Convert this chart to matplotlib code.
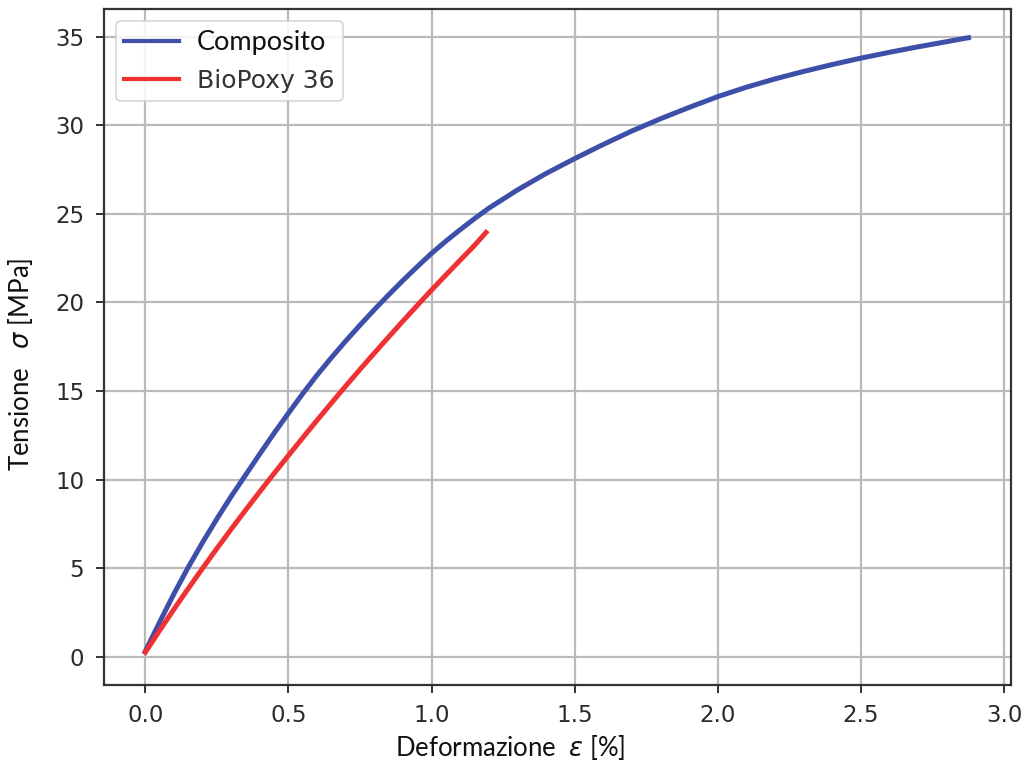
import matplotlib
matplotlib.use("Agg")
import matplotlib.pyplot as plt
from matplotlib.font_manager import FontProperties

plt.rcParams["font.family"] = ["DejaVu Sans"]
plt.rcParams["mathtext.fontset"] = "dejavusans"

# Stress-strain readings (strain in %, stress in MPa)
composito_strain = [0.00, 0.05, 0.10, 0.15, 0.20, 0.25, 0.30, 0.35, 0.40, 0.45,
                     0.50, 0.55, 0.60, 0.65, 0.70, 0.75, 0.80, 0.85, 0.90, 0.95,
                     1.00, 1.05, 1.10, 1.15, 1.20, 1.30, 1.40, 1.50, 1.60, 1.70,
                     1.80, 1.90, 2.00, 2.10, 2.20, 2.30, 2.40, 2.50, 2.60, 2.70,
                     2.80, 2.875]
composito_stress = [0.30, 1.95, 3.55, 5.05, 6.45, 7.78, 9.05, 10.25, 11.45, 12.62,
                    13.75, 14.85, 15.90, 16.88, 17.82, 18.72, 19.59, 20.43, 21.24, 22.02,
                    22.77, 23.46, 24.11, 24.73, 25.32, 26.35, 27.28, 28.12, 28.92, 29.68,
                    30.37, 31.01, 31.62, 32.15, 32.62, 33.04, 33.43, 33.79, 34.12, 34.43,
                    34.72, 34.94]

biopoxy_strain = [0.00, 0.05, 0.10, 0.15, 0.20, 0.25, 0.30, 0.35, 0.40, 0.45,
                  0.50, 0.55, 0.60, 0.65, 0.70, 0.75, 0.80, 0.85, 0.90, 0.95,
                  1.00, 1.05, 1.10, 1.15, 1.19]
biopoxy_stress = [0.25, 1.48, 2.68, 3.85, 4.99, 6.11, 7.20, 8.27, 9.32, 10.35,
                  11.36, 12.36, 13.35, 14.32, 15.28, 16.22, 17.14, 18.05, 18.95, 19.83,
                  20.70, 21.55, 22.39, 23.22, 23.95]

series_labels = ["Composito", "BioPoxy 36"]
x_ticks = [0.0, 0.5, 1.0, 1.5, 2.0, 2.5, 3.0]
y_ticks = [0, 5, 10, 15, 20, 25, 30, 35]

blue = "#3d4fa8"
red = "#ef3134"

fig = plt.figure(figsize=(10.27, 7.66), dpi=100)
ax = fig.add_axes([0.101, 0.106, 0.883, 0.882])

ax.plot(composito_strain, composito_stress, color=blue, lw=3.6,
        label=series_labels[0])
ax.plot(biopoxy_strain, biopoxy_stress, color=red, lw=3.6,
        label=series_labels[1])

ax.set_xlim(-0.145, 3.022)
ax.set_ylim(-1.58, 36.55)
ax.set_xticks(x_ticks)
ax.set_xticklabels([f"{v:.1f}" for v in x_ticks])
ax.set_yticks(y_ticks)
ax.set_yticklabels([str(v) for v in y_ticks])

ax.grid(True, color="#bababa", linewidth=1.6)
ax.set_axisbelow(True)
ax.tick_params(axis="both", labelsize=16.5, labelcolor="#2a2a2a",
               length=6, width=1.4, color="#333333")
ax.tick_params(axis="y", pad=8)
ax.tick_params(axis="x", pad=8)
for sp in ax.spines.values():
    sp.set_linewidth(1.6)
    sp.set_color("#333333")

label_font = FontProperties(family="Lato", size=18.5)
ax.set_xlabel("Deformazione  $\\varepsilon$ [%]", fontproperties=label_font,
              color="#111111")
ax.set_ylabel("Tensione   $\\sigma$ [MPa]", fontproperties=label_font,
              color="#111111")
ax.xaxis.set_label_coords(0.448, -0.072)
ax.yaxis.set_label_coords(-0.076, 0.475)

leg = ax.legend(loc="upper left", prop=FontProperties(family="DejaVu Sans", size=18),
                handlelength=2.2, borderaxespad=0.48, framealpha=0.85,
                edgecolor="#d0d0d0", borderpad=0.35, labelspacing=0.55,
                handletextpad=0.7)
leg.get_frame().set_linewidth(1.2)
texts = leg.get_texts()
texts[0].set_fontproperties(FontProperties(family="Lato", size=19.5))
texts[0].set_color("#111111")
texts[1].set_color("#333333")
for h in leg.get_lines():
    h.set_linewidth(3.0)

fig.savefig("out.png", dpi=100)
